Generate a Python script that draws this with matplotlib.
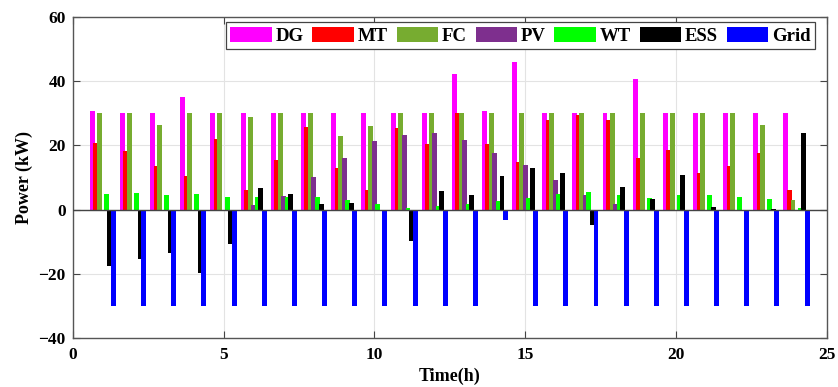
import numpy as np
import matplotlib
matplotlib.use("Agg")
import matplotlib.pyplot as plt

plt.rcParams['font.family'] = ['Liberation Serif', 'DejaVu Serif']
plt.rcParams['font.weight'] = 'bold'

# hourly power of each unit (kW)
hours = np.arange(1, 25)
DG = [30.7, 30, 30, 35, 30, 30, 30, 30, 30, 30, 30, 30,
      42.4, 30.7, 46, 30, 30, 30, 40.7, 30, 30.2, 30, 30, 30]
MT = [20.9, 18.3, 13.6, 10.4, 21.9, 6.0, 15.6, 25.8, 13.0, 6.0, 25.6, 20.5,
      30, 20.5, 14.7, 28.1, 29.5, 28, 16.0, 18.5, 11.5, 13.7, 17.5, 6.0]
FC = [30, 30, 26.4, 30, 30, 29, 30, 30, 22.9, 26.1, 30, 30,
      30, 30, 30, 30, 30, 30, 30, 30, 30, 30, 26.4, 3.0]
PV = [0, 0, 0, 0, 0, 1.5, 4.1, 10.3, 16.0, 21.4, 23.4, 23.8,
      21.6, 17.7, 13.9, 9.3, 4.4, 1.7, 0, 0, 0, 0, 0, 0]
WT = [4.9, 5.1, 4.4, 4.8, 3.8, 4.0, 4.0, 3.8, 3.1, 1.7, 0.6, 1.1,
      1.7, 2.7, 3.6, 4.8, 5.4, 4.4, 3.7, 4.6, 4.4, 3.8, 3.2, 0.4]
ESS = [-17.5, -15.5, -13.6, -19.8, -10.8, 6.6, 4.7, 1.7, 1.9, -0.5, -9.7, 5.7,
       4.4, 10.6, 13.1, 11.5, -4.9, 7.1, 3.2, 10.7, 0.8, 0, 0.3, 23.8]
Grid = [-30, -30, -30, -30, -30, -30, -30, -30, -30, -30, -30, -30,
        -30, -3.2, -30, -30, -30, -30, -30, -30, -30, -30, -30, -30]

names = ['DG', 'MT', 'FC', 'PV', 'WT', 'ESS', 'Grid']
series = [DG, MT, FC, PV, WT, ESS, Grid]
colors = ['#FF00FF', '#FF0000', '#77AC30', '#7E2F8E', '#00FF00', '#000000', '#0000FF']

fig = plt.figure(figsize=(8.38, 3.87), dpi=100)
ax = fig.add_axes([72.7 / 838, 49.3 / 387, 754 / 838, 320.4 / 387])

step = 0.117
width = 0.165
for k, (vals, c, n) in enumerate(zip(series, colors, names)):
    ax.bar(hours + (k - 3) * step, vals, width=width, color=c, linewidth=0, label=n, zorder=2 + k * 0.01)

ax.axhline(0, color='#444444', lw=1.0, zorder=3)

ax.set_xlim(0, 25)
ax.set_ylim(-40, 60)
ax.set_xticks(np.arange(0, 26, 5))
ax.set_yticks(np.arange(-40, 61, 20))
ax.grid(True, color='#e3e3e3', lw=0.8)
ax.set_axisbelow(True)
ax.tick_params(direction='in', top=True, right=True, length=5, width=0.8,
               color='#444444', labelsize=12.5)
ax.tick_params(axis='x', pad=7)
ax.tick_params(axis='y', pad=5)
for s in ax.spines.values():
    s.set_color('#555555')
    s.set_linewidth(1.0)

ax.set_xlabel('Time(h)', fontsize=13, fontweight='bold', labelpad=3)
ax.set_ylabel('Power (kW)', fontsize=13, fontweight='bold', labelpad=4)

leg = ax.legend(loc='upper right', bbox_to_anchor=(0.9845, 0.9853), borderaxespad=0,
                ncol=7, fontsize=13.5, handlelength=2.2, handleheight=0.85,
                handletextpad=0.2, columnspacing=0.48, borderpad=0.25,
                fancybox=False, framealpha=1, edgecolor='#444444')
leg.get_frame().set_linewidth(0.9)

fig.savefig('out.png', dpi=100)
